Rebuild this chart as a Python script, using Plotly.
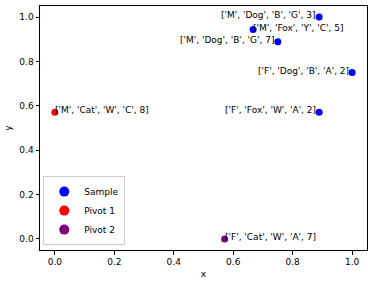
import plotly.graph_objects as go

sample_x = [0.889, 0.667, 0.75, 1.0, 0.889]
sample_y = [1.0, 0.944, 0.889, 0.75, 0.571]
sample_labels = ["['M', 'Dog', 'B', 'G', 3]", "['M', 'Fox', 'Y', 'C', 5]",
                 "['M', 'Dog', 'B', 'G', 7]", "['F', 'Dog', 'B', 'A', 2]",
                 "['F', 'Fox', 'W', 'A', 2]"]
sample_side = ["left", "right", "left", "left", "left"]

pivot1_x = [0.0]
pivot1_y = [0.571]
pivot1_labels = ["['M', 'Cat', 'W', 'C', 8]"]
pivot1_side = ["right"]

pivot2_x = [0.571]
pivot2_y = [0.0]
pivot2_labels = ["['F', 'Cat', 'W', 'A', 7]"]
pivot2_side = ["right"]

series = [
    ("Sample", "blue", sample_x, sample_y, sample_labels, sample_side),
    ("Pivot 1", "red", pivot1_x, pivot1_y, pivot1_labels, pivot1_side),
    ("Pivot 2", "purple", pivot2_x, pivot2_y, pivot2_labels, pivot2_side),
]

FONT = "DejaVu Sans"
fig = go.Figure()
annotations = []
for name, color, xs, ys, labels, sides in series:
    fig.add_trace(go.Scatter(x=xs, y=ys, mode="markers", name=name,
                             marker=dict(color=color, size=7), showlegend=False,
                             hoverinfo="skip"))
    fig.add_trace(go.Scatter(x=[None], y=[None], mode="markers", name=name,
                             marker=dict(color=color, size=10), showlegend=True))
    for x, y, t, s in zip(xs, ys, labels, sides):
        annotations.append(dict(x=x, y=y, text=t, showarrow=False,
                                xanchor="right" if s == "left" else "left",
                                xshift=-1 if s == "left" else -2,
                                yanchor="middle", yshift=2,
                                font=dict(family=FONT, size=9, color="black")))

axis_common = dict(showgrid=False, zeroline=False, showline=True, linecolor="black",
                   linewidth=1, mirror=True, ticks="outside", ticklen=3.5,
                   tickcolor="black", automargin=False,
                   tickfont=dict(family=FONT, size=9, color="black"))

fig.update_layout(
    width=374, height=285,
    margin=dict(l=40, r=7, t=6, b=35),
    paper_bgcolor="white", plot_bgcolor="white",
    annotations=annotations,
    xaxis=dict(range=[-0.05, 1.05], tickvals=[0, 0.2, 0.4, 0.6, 0.8, 1.0],
               tickformat=".1f",
               title=dict(text="x", font=dict(family=FONT, size=9, color="black"), standoff=4),
               **axis_common),
    yaxis=dict(range=[-0.05, 1.05], tickvals=[0, 0.2, 0.4, 0.6, 0.8, 1.0],
               tickformat=".1f",
               title=dict(text="y", font=dict(family=FONT, size=9, color="black"), standoff=6),
               **axis_common),
    legend=dict(x=0.01, y=0.02, xanchor="left", yanchor="bottom",
                bgcolor="white", bordercolor="#cccccc", borderwidth=1,
                font=dict(family=FONT, size=9, color="black"),
                itemwidth=30, tracegroupgap=0),
    showlegend=True,
)

fig.write_html("out.html", config={"displayModeBar": False},
               post_script="document.body.style.margin='0';")
